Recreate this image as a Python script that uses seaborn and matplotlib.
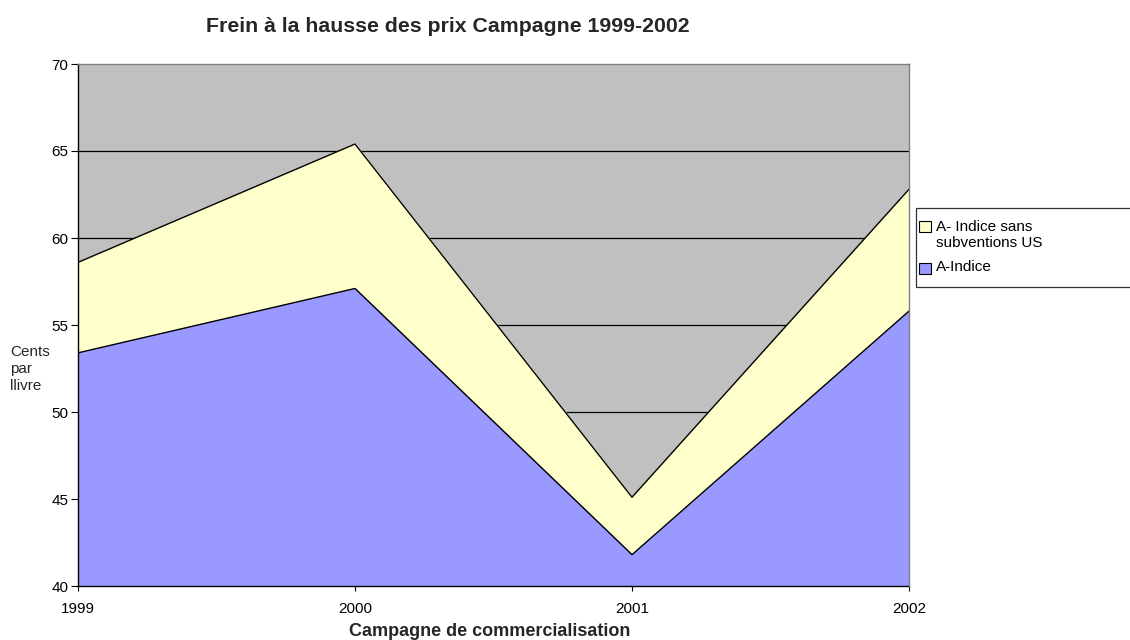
import pandas as pd
import seaborn as sns
import matplotlib.pyplot as plt
from matplotlib.patches import Patch, Rectangle
from matplotlib.legend_handler import HandlerPatch

# donnees (cents par livre)
annees = [1999, 2000, 2001, 2002]
sans_subventions = [58.6, 65.4, 45.1, 62.8]
a_indice = [53.4, 57.1, 41.8, 55.8]

df = pd.DataFrame({'Annee': annees,
                   'A- Indice sans subventions US': sans_subventions,
                   'A-Indice': a_indice})

sns.set_style("white")
plt.rcParams['font.family'] = ['Liberation Sans', 'DejaVu Sans']

fig = plt.figure(figsize=(11.3, 6.4), dpi=100)
ax = fig.add_axes([78 / 1130, 1 - 586 / 640, (909 - 78) / 1130, (586 - 64) / 640])
ax.set_facecolor('#C0C0C0')

# lignes de grille derriere les surfaces
for y in [45, 50, 55, 60, 65]:
    ax.axhline(y, color='black', lw=0.9, zorder=0)

ax.fill_between(df['Annee'], 40, df['A- Indice sans subventions US'], color='#FFFFCC', zorder=1)
ax.fill_between(df['Annee'], 40, df['A-Indice'], color='#9999FF', zorder=2)
sns.lineplot(data=df, x='Annee', y='A- Indice sans subventions US', color='black', lw=1, ax=ax, zorder=3)
sns.lineplot(data=df, x='Annee', y='A-Indice', color='black', lw=1, ax=ax, zorder=3)

ax.set_xlim(1999, 2002)
ax.set_ylim(40, 70)
ax.set_xticks(annees)
ax.set_xticklabels([str(a) for a in annees])
ax.set_yticks(range(40, 71, 5))
ax.tick_params(axis='both', labelsize=11, width=0.8, color='black', direction='out',
               bottom=True, left=True, labelcolor='black')
ax.tick_params(axis='x', length=3.6, pad=8)
ax.tick_params(axis='y', length=5.4, pad=1.5)

for cote in ['left', 'bottom']:
    ax.spines[cote].set_color('black')
    ax.spines[cote].set_linewidth(1.0)
for cote in ['top', 'right']:
    ax.spines[cote].set_color('#808080')
    ax.spines[cote].set_linewidth(1.0)
    ax.spines[cote].set_zorder(4)

ax.set_xlabel('')
ax.set_ylabel('')
fig.text(490 / 1130, 1 - 636 / 640, 'Campagne de commercialisation', ha='center', va='baseline',
         fontsize=13, fontweight='bold')
fig.text(10 / 1130, 1 - 369 / 640, 'Cents\npar\nllivre', ha='left', va='center', fontsize=11,
         linespacing=1.3)
fig.text(448 / 1130, 1 - 32 / 640, 'Frein à la hausse des prix Campagne 1999-2002', ha='center',
         va='baseline', fontsize=15.3, fontweight='bold')


# carre de legende aligne sur la premiere ligne du texte, decale vers la gauche
def carre_haut(legend, orig_handle, xdescent, ydescent, width, height, fontsize):
    decal = 0.6 * fontsize if '\n' in orig_handle.get_label() else -0.15 * fontsize
    return Rectangle((-xdescent - 6.5, -ydescent + decal), 8.5, height)


poignees = [Patch(facecolor='#FFFFCC', edgecolor='black', lw=0.8, label='A- Indice sans\nsubventions US'),
            Patch(facecolor='#9999FF', edgecolor='black', lw=0.8, label='A-Indice')]
leg = fig.legend(handles=poignees, loc='upper left',
                 bbox_to_anchor=(916 / 1130, 1 - 300 / 640, 0.3, 92 / 640), mode='expand',
                 fontsize=11, frameon=True, fancybox=False, edgecolor='black',
                 handlelength=0.2, handleheight=0.75, handletextpad=0.3, borderpad=0.8,
                 labelspacing=0.65, borderaxespad=0,
                 handler_map={Patch: HandlerPatch(patch_func=carre_haut)})
leg.get_frame().set_linewidth(0.9)
for t in leg.get_texts():
    t.set_color('black')

plt.savefig('out.png', dpi=100)
plt.close()
